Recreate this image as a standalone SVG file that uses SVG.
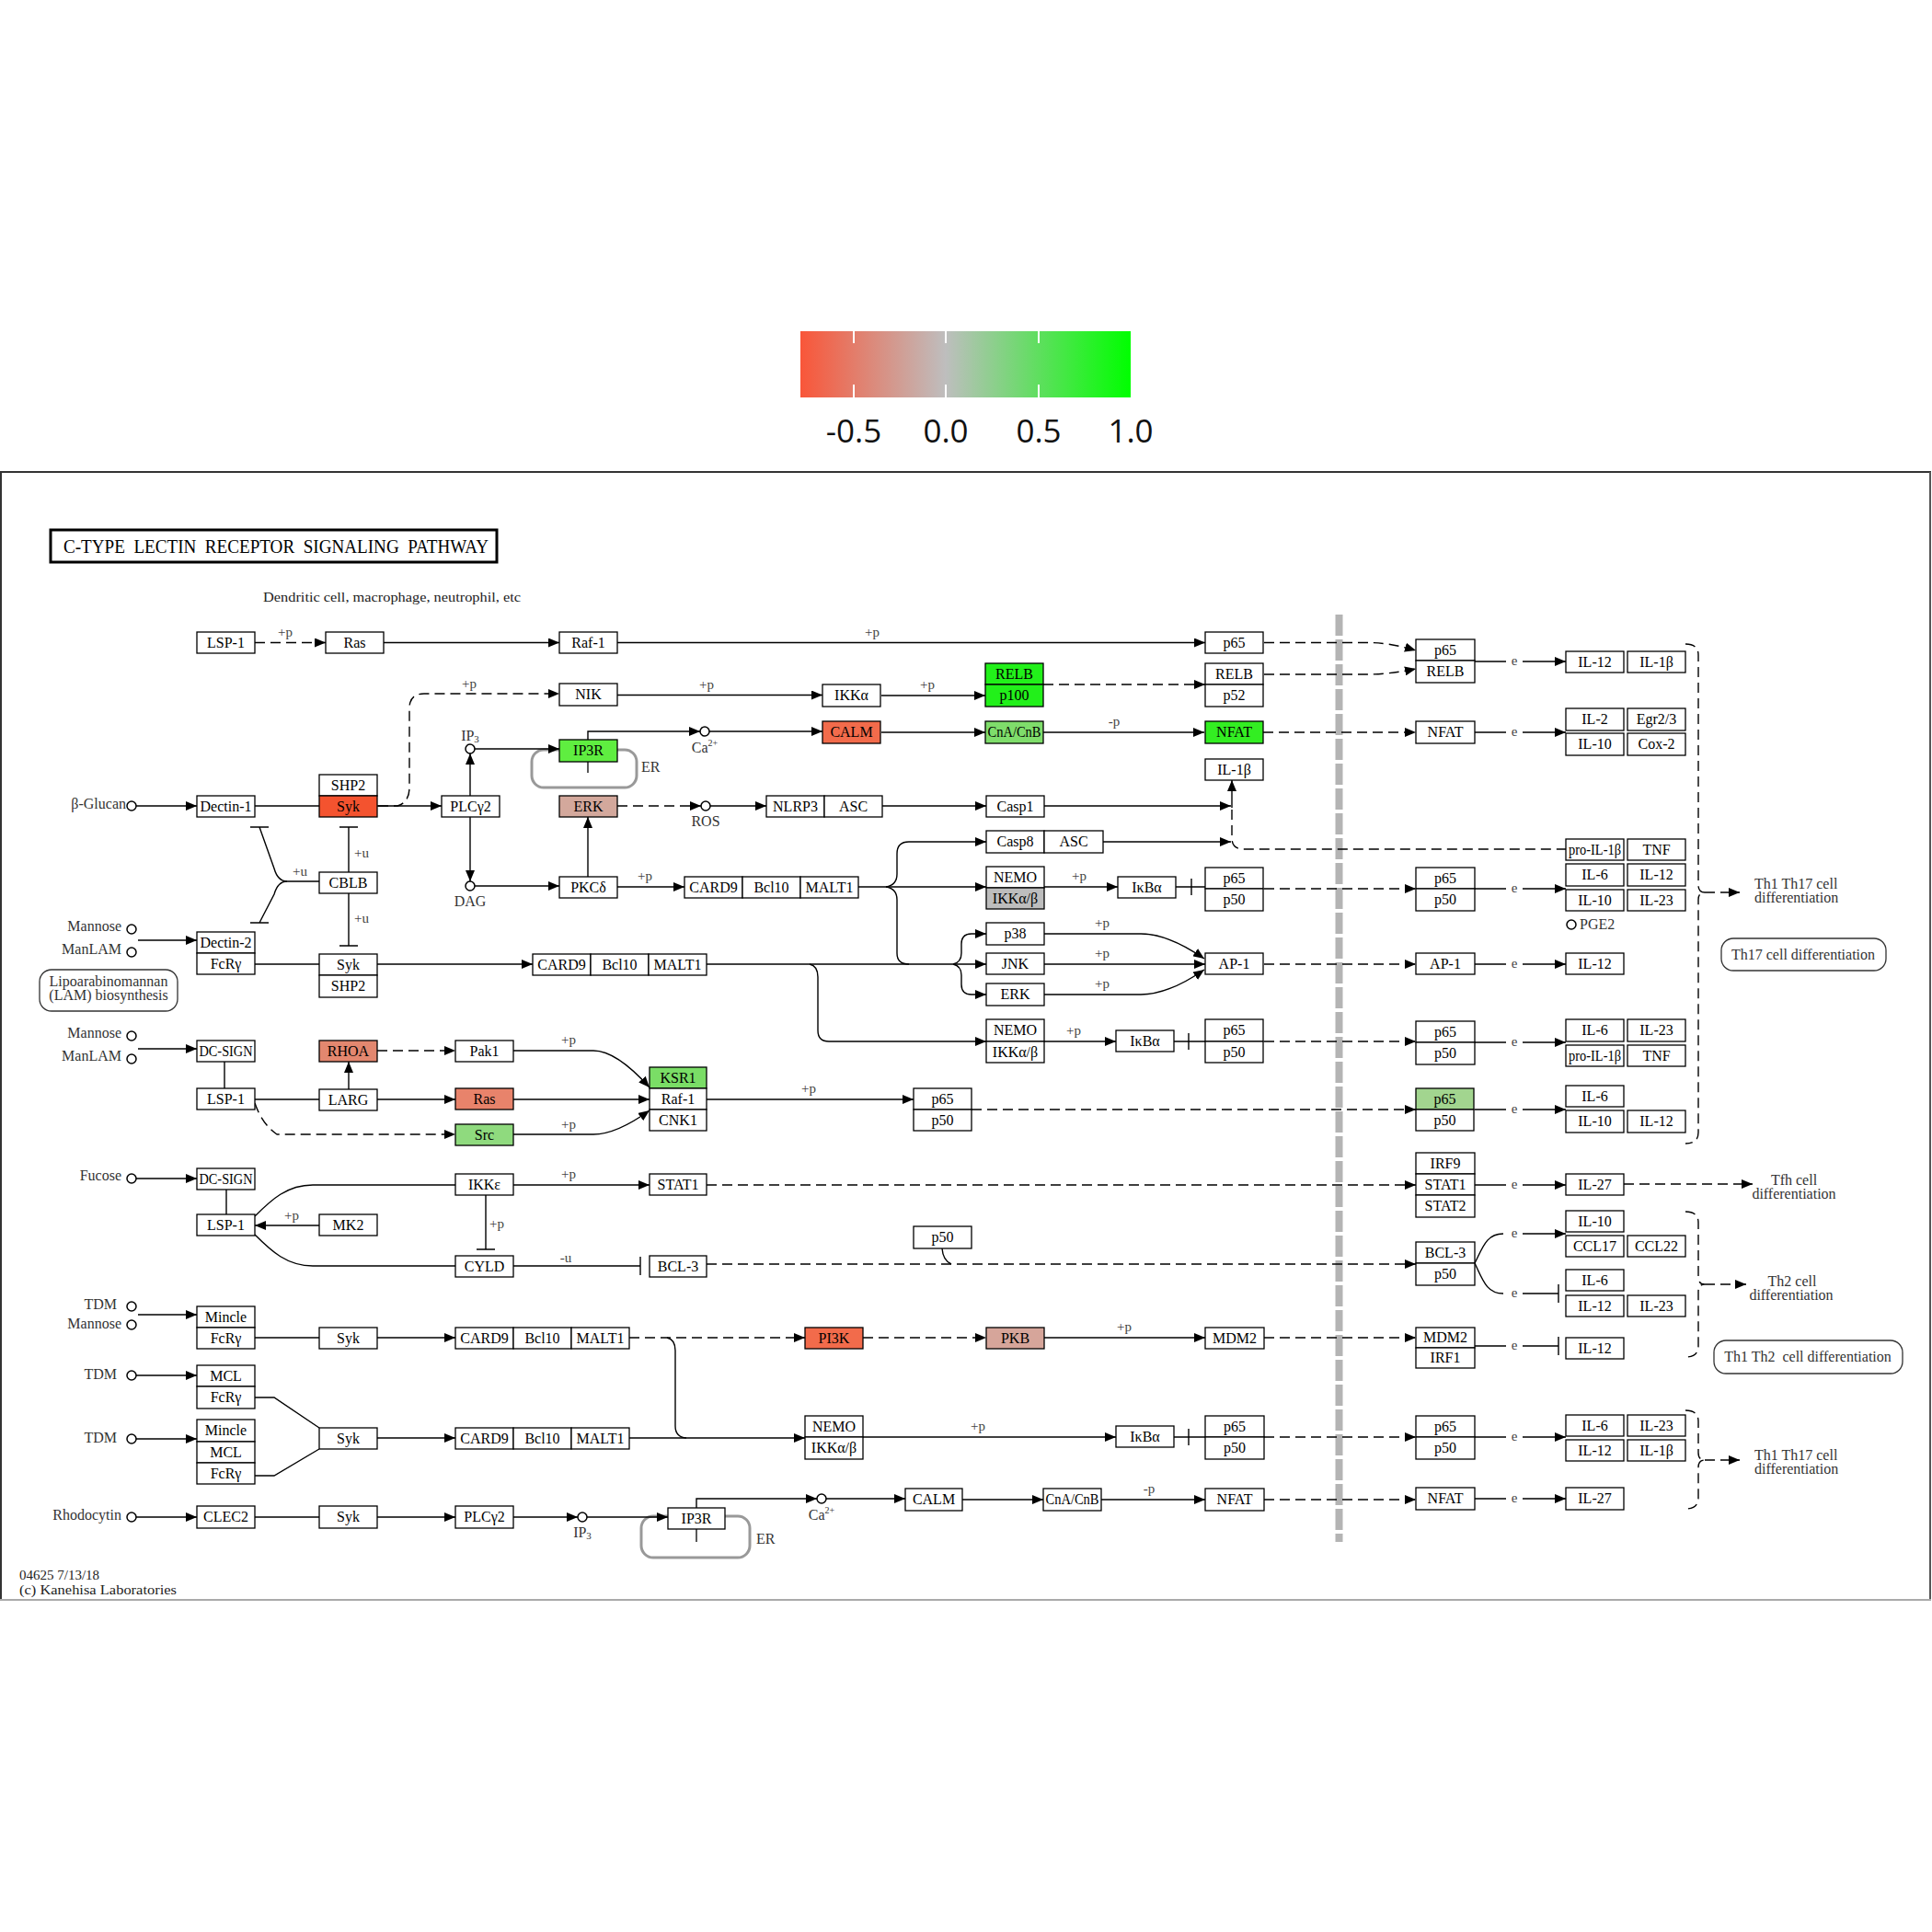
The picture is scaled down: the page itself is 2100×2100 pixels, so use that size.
<svg xmlns="http://www.w3.org/2000/svg" width="2100" height="2100" viewBox="0 0 2100 2100">
<defs>
<linearGradient id="lg" x1="0" y1="0" x2="1" y2="0">
<stop offset="0" stop-color="#F95639"/>
<stop offset="0.44" stop-color="#BEBEBE"/>
<stop offset="1" stop-color="#00FF00"/>
</linearGradient>
<marker id="ar" markerUnits="userSpaceOnUse" markerWidth="12" markerHeight="10" refX="12" refY="5" orient="auto" viewBox="0 0 12 10"><path d="M0,0L12,5L0,10z" fill="#000"/></marker>
</defs>
<style>
.b{fill:#fff;stroke:#000;stroke-width:1.3}
.t{font-family:"Liberation Serif",serif;font-size:16px;text-anchor:middle;fill:#000}
.l{fill:none;stroke:#000;stroke-width:1.4}
.d{stroke-dasharray:11 6}
.lb{font-family:"Liberation Serif",serif;font-size:15px;fill:#444;text-anchor:middle}
.c{fill:#fff;stroke:#000;stroke-width:1.5}
.cl{font-family:"Liberation Serif",serif;font-size:16px;fill:#333}
.r{text-anchor:end}
.mid{text-anchor:middle}
.m{fill:#fff;stroke:#333;stroke-width:1.3}
.er{fill:none;stroke:#999;stroke-width:3}
.lg{font-family:"Open Sans","Noto Sans",sans-serif;font-size:35px;fill:#111;text-anchor:middle}
</style>
<rect width="2100" height="2100" fill="#fff"/>

<g id="legend">
<rect x="870" y="360" width="359" height="72" fill="url(#lg)"/>
<g stroke="#fff" stroke-width="2">
<line x1="928" y1="360" x2="928" y2="373"/><line x1="928" y1="418" x2="928" y2="432"/>
<line x1="1028" y1="360" x2="1028" y2="373"/><line x1="1028" y1="418" x2="1028" y2="432"/>
<line x1="1129" y1="360" x2="1129" y2="373"/><line x1="1129" y1="418" x2="1129" y2="432"/>
</g>
<text class="lg" x="928" y="481">-0.5</text>
<text class="lg" x="1028" y="481">0.0</text>
<text class="lg" x="1129" y="481">0.5</text>
<text class="lg" x="1229" y="481">1.0</text>
</g>

<g id="frame">
<line x1="0" y1="513" x2="2099" y2="513" stroke="#333" stroke-width="2"/>
<line x1="1" y1="513" x2="1" y2="1739" stroke="#333" stroke-width="2"/>
<line x1="2098" y1="513" x2="2098" y2="1739" stroke="#555" stroke-width="2"/>
<line x1="0" y1="1739" x2="2099" y2="1739" stroke="#aaa" stroke-width="2"/>
</g>

<g id="title">
<rect x="55" y="576" width="485" height="35" fill="#fff" stroke="#000" stroke-width="3"/>
<text x="69" y="601" font-family="Liberation Serif,serif" font-size="20" textLength="462" lengthAdjust="spacingAndGlyphs" xml:space="preserve">C-TYPE  LECTIN  RECEPTOR  SIGNALING  PATHWAY</text>
<text x="286" y="654" font-family="Liberation Serif,serif" font-size="15" fill="#222" textLength="280" lengthAdjust="spacingAndGlyphs">Dendritic cell, macrophage, neutrophil, etc</text>
<text x="21" y="1717" font-family="Liberation Serif,serif" font-size="15" fill="#222">04625 7/13/18</text>
<text x="21" y="1733" font-family="Liberation Serif,serif" font-size="15" fill="#222" textLength="171" lengthAdjust="spacingAndGlyphs">(c) Kanehisa Laboratories</text>
</g>

<line id="membrane" x1="1455.5" y1="668" x2="1455.5" y2="1676" stroke="#B4B4B4" stroke-width="8" stroke-dasharray="23 4"/>

<g id="er-loops">
<rect class="er" x="578" y="815" width="114" height="41" rx="13"/>
<line x1="639" y1="828" x2="639" y2="840" stroke="#000" stroke-width="1.3"/>
<text class="cl" x="697" y="839">ER</text>
<rect class="er" x="697" y="1648" width="118" height="45" rx="13"/>
<line x1="757" y1="1662" x2="757" y2="1676" stroke="#000" stroke-width="1.3"/>
<text class="cl" x="822" y="1678">ER</text>
</g>

<g id="connectors">
<path class="l d" d="M277,698.5H354" marker-end="url(#ar)"/>
<path class="l" d="M417,698.5H608" marker-end="url(#ar)"/>
<path class="l" d="M671,698.5H1310" marker-end="url(#ar)"/>
<path class="l d" d="M1374,698.5H1490Q1512,699 1539,707" marker-end="url(#ar)"/>
<path class="l d" d="M1374,733H1485Q1510,733 1539,727" marker-end="url(#ar)"/>
<path class="l d" d="M411,876H432Q445,872 445,856V770Q445,754 461,754H608" marker-end="url(#ar)"/>
<path class="l" d="M671,755.5H894" marker-end="url(#ar)"/>
<path class="l" d="M958,756H1071" marker-end="url(#ar)"/>
<path class="l d" d="M1134,744H1310" marker-end="url(#ar)"/>
<path class="l" d="M639,804V795H761" marker-end="url(#ar)"/>
<path class="l" d="M771,795H894" marker-end="url(#ar)"/>
<path class="l" d="M958,796H1071" marker-end="url(#ar)"/>
<path class="l" d="M1134,796H1309" marker-end="url(#ar)"/>
<path class="l d" d="M1373,796H1539" marker-end="url(#ar)"/>
<path class="l" d="M148,876H214" marker-end="url(#ar)"/>
<path class="l" d="M277,876H347"/>
<path class="l" d="M410,876H480" marker-end="url(#ar)"/>
<path class="l" d="M511,865V819" marker-end="url(#ar)"/>
<path class="l" d="M511,888V958" marker-end="url(#ar)"/>
<path class="l" d="M516,814H608" marker-end="url(#ar)"/>
<path class="l" d="M516,963H608" marker-end="url(#ar)"/>
<path class="l" d="M639,953V888" marker-end="url(#ar)"/>
<path class="l d" d="M671,876H762" marker-end="url(#ar)"/>
<path class="l" d="M772,876H833" marker-end="url(#ar)"/>
<path class="l" d="M959,876H1072" marker-end="url(#ar)"/>
<path class="l" d="M1135,876H1338" marker-end="url(#ar)"/>
<path class="l" d="M1199,915H1338" marker-end="url(#ar)"/>
<path class="l" d="M1339,878V848" marker-end="url(#ar)"/>
<path class="l d" d="M1339,880V911Q1339,923 1352,923H1702"/>
<path class="l" d="M671,964H744" marker-end="url(#ar)"/>
<path class="l" d="M933,964H1072" marker-end="url(#ar)"/>
<path class="l" d="M963,964Q975,962 975,950V928Q975,915 988,915H1072" marker-end="url(#ar)"/>
<path class="l" d="M963,964Q975,966 975,978V1036Q975,1048 988,1048"/>
<path class="l" d="M1135,964H1215" marker-end="url(#ar)"/>
<path class="l" d="M1278,964H1310M1295,955V973"/>
<path class="l d" d="M1374,966H1539" marker-end="url(#ar)"/>
<path class="l" d="M379,948V899M369,899H389"/>
<path class="l" d="M379,971V1028M369,1028H389"/>
<path class="l" d="M347,958H312Q302,958 298,944L282,899M272,899H292"/>
<path class="l" d="M312,958Q302,958 298,972L282,1003M272,1003H292"/>
<path class="l" d="M150,1022H214" marker-end="url(#ar)"/>
<path class="l" d="M277,1048H347"/>
<path class="l" d="M410,1048H579" marker-end="url(#ar)"/>
<path class="l" d="M768,1048H1072" marker-end="url(#ar)"/>
<path class="l" d="M1036,1048Q1045,1046 1045,1036V1026Q1045,1015 1056,1015H1072" marker-end="url(#ar)"/>
<path class="l" d="M1036,1048Q1045,1050 1045,1060V1070Q1045,1081 1056,1081H1072" marker-end="url(#ar)"/>
<path class="l" d="M880,1048Q889,1050 889,1062V1120Q889,1132 901,1132H1072" marker-end="url(#ar)"/>
<path class="l" d="M1135,1015H1240Q1270,1015 1309,1042" marker-end="url(#ar)"/>
<path class="l" d="M1135,1048H1310" marker-end="url(#ar)"/>
<path class="l" d="M1135,1081H1240Q1270,1081 1309,1054" marker-end="url(#ar)"/>
<path class="l d" d="M1374,1048H1539" marker-end="url(#ar)"/>
<path class="l" d="M1135,1132H1213" marker-end="url(#ar)"/>
<path class="l" d="M1276,1132H1310M1292,1123V1141"/>
<path class="l d" d="M1374,1132H1539" marker-end="url(#ar)"/>
<path class="l" d="M150,1140H214" marker-end="url(#ar)"/>
<path class="l" d="M244,1154V1183"/>
<path class="l" d="M277,1195H347"/>
<path class="l" d="M379,1184V1154" marker-end="url(#ar)"/>
<path class="l d" d="M410,1142H495" marker-end="url(#ar)"/>
<path class="l" d="M410,1195H495" marker-end="url(#ar)"/>
<path class="l" d="M558,1142H645Q670,1142 706,1182" marker-end="url(#ar)"/>
<path class="l" d="M558,1195H706" marker-end="url(#ar)"/>
<path class="l" d="M558,1233H645Q670,1233 706,1207" marker-end="url(#ar)"/>
<path class="l d" d="M277,1199Q285,1222 301,1233H495" marker-end="url(#ar)"/>
<path class="l" d="M768,1195H993" marker-end="url(#ar)"/>
<path class="l d" d="M1056,1206H1539" marker-end="url(#ar)"/>
<path class="l" d="M148,1281H214" marker-end="url(#ar)"/>
<path class="l" d="M246,1293V1320"/>
<path class="l" d="M277,1322C295,1304 312,1288 340,1288H495"/>
<path class="l" d="M347,1332H277" marker-end="url(#ar)"/>
<path class="l" d="M277,1342C295,1360 312,1376 340,1376H495"/>
<path class="l" d="M558,1288H706" marker-end="url(#ar)"/>
<path class="l" d="M528,1299V1358M518,1358H538"/>
<path class="l" d="M558,1376H696M696,1366V1386"/>
<path class="l d" d="M768,1288H1539" marker-end="url(#ar)"/>
<path class="l d" d="M768,1374H1539" marker-end="url(#ar)"/>
<path class="l" d="M1024,1357Q1025,1370 1034,1374"/>
<path class="l" d="M150,1429H214" marker-end="url(#ar)"/>
<path class="l" d="M277,1454H347"/>
<path class="l" d="M410,1454H495" marker-end="url(#ar)"/>
<path class="l d" d="M684,1454H875" marker-end="url(#ar)"/>
<path class="l" d="M725,1454Q734,1456 734,1468V1550Q734,1562 746,1563"/>
<path class="l d" d="M938,1454H1072" marker-end="url(#ar)"/>
<path class="l" d="M1135,1454H1310" marker-end="url(#ar)"/>
<path class="l d" d="M1374,1454H1539" marker-end="url(#ar)"/>
<path class="l" d="M148,1495H214" marker-end="url(#ar)"/>
<path class="l" d="M148,1564H214" marker-end="url(#ar)"/>
<path class="l" d="M277,1519H298L347,1552"/>
<path class="l" d="M277,1604H298L347,1575"/>
<path class="l" d="M410,1563H495" marker-end="url(#ar)"/>
<path class="l" d="M684,1563H875" marker-end="url(#ar)"/>
<path class="l" d="M938,1562H1213" marker-end="url(#ar)"/>
<path class="l" d="M1276,1562H1310M1292,1553V1571"/>
<path class="l d" d="M1374,1562H1539" marker-end="url(#ar)"/>
<path class="l" d="M148,1649H214" marker-end="url(#ar)"/>
<path class="l" d="M277,1649H347"/>
<path class="l" d="M410,1649H495" marker-end="url(#ar)"/>
<path class="l" d="M558,1649H628" marker-end="url(#ar)"/>
<path class="l" d="M638,1649H726" marker-end="url(#ar)"/>
<path class="l" d="M757,1639V1629H888" marker-end="url(#ar)"/>
<path class="l" d="M898,1629H984" marker-end="url(#ar)"/>
<path class="l" d="M1046,1630H1134" marker-end="url(#ar)"/>
<path class="l" d="M1197,1630H1310" marker-end="url(#ar)"/>
<path class="l d" d="M1374,1630H1539" marker-end="url(#ar)"/>
<path class="l" d="M1603,719H1637M1655,719H1702" marker-end="url(#ar)"/>
<path class="l" d="M1603,796H1637M1655,796H1702" marker-end="url(#ar)"/>
<path class="l" d="M1603,966H1637M1655,966H1702" marker-end="url(#ar)"/>
<path class="l" d="M1603,1048H1637M1655,1048H1702" marker-end="url(#ar)"/>
<path class="l" d="M1603,1133H1637M1655,1133H1702" marker-end="url(#ar)"/>
<path class="l" d="M1603,1206H1637M1655,1206H1702" marker-end="url(#ar)"/>
<path class="l" d="M1603,1288H1637M1655,1288H1702" marker-end="url(#ar)"/>
<path class="l" d="M1603,1373C1612,1355 1616,1341 1634,1341M1655,1341H1702" marker-end="url(#ar)"/>
<path class="l" d="M1603,1373C1612,1392 1616,1406 1634,1406M1655,1406H1694M1694,1396V1416"/>
<path class="l" d="M1603,1463H1637M1655,1463H1694M1694,1453V1473"/>
<path class="l" d="M1603,1562H1637M1655,1562H1702" marker-end="url(#ar)"/>
<path class="l" d="M1603,1629H1637M1655,1629H1702" marker-end="url(#ar)"/>
<path class="l d" d="M1765,1287H1905" marker-end="url(#ar)"/>
<path class="l d" d="M1832,700Q1846,700 1846,712V962Q1846,970 1853,970Q1846,970 1846,978V1231Q1846,1243 1832,1243"/>
<path class="l d" d="M1853,970H1891" marker-end="url(#ar)"/>
<path class="l d" d="M1832,1317Q1846,1317 1846,1329V1388Q1846,1396 1853,1396Q1846,1396 1846,1404V1463Q1846,1475 1832,1475"/>
<path class="l d" d="M1853,1396H1898" marker-end="url(#ar)"/>
<path class="l d" d="M1832,1533Q1846,1533 1846,1545V1579Q1846,1587 1853,1587Q1846,1587 1846,1595V1628Q1846,1640 1832,1640"/>
<path class="l d" d="M1853,1587H1891" marker-end="url(#ar)"/>
</g>

<g id="edge-labels">
<text class="lb" x="310" y="692">+p</text>
<text class="lb" x="948" y="692">+p</text>
<text class="lb" x="510" y="748">+p</text>
<text class="lb" x="768" y="749">+p</text>
<text class="lb" x="1008" y="749">+p</text>
<text class="lb" x="1211" y="789">-p</text>
<text class="lb" x="701" y="957">+p</text>
<text class="lb" x="1173" y="957">+p</text>
<text class="lb" x="393" y="932">+u</text>
<text class="lb" x="326" y="952">+u</text>
<text class="lb" x="393" y="1003">+u</text>
<text class="lb" x="1198" y="1008">+p</text>
<text class="lb" x="1198" y="1041">+p</text>
<text class="lb" x="1198" y="1074">+p</text>
<text class="lb" x="1167" y="1125">+p</text>
<text class="lb" x="618" y="1135">+p</text>
<text class="lb" x="618" y="1227">+p</text>
<text class="lb" x="879" y="1188">+p</text>
<text class="lb" x="618" y="1281">+p</text>
<text class="lb" x="317" y="1326">+p</text>
<text class="lb" x="540" y="1335">+p</text>
<text class="lb" x="615" y="1372">-u</text>
<text class="lb" x="1222" y="1447">+p</text>
<text class="lb" x="1063" y="1555">+p</text>
<text class="lb" x="1249" y="1623">-p</text>
<text class="lb" x="1646" y="723">e</text>
<text class="lb" x="1646" y="800">e</text>
<text class="lb" x="1646" y="970">e</text>
<text class="lb" x="1646" y="1052">e</text>
<text class="lb" x="1646" y="1137">e</text>
<text class="lb" x="1646" y="1210">e</text>
<text class="lb" x="1646" y="1292">e</text>
<text class="lb" x="1646" y="1345">e</text>
<text class="lb" x="1646" y="1410">e</text>
<text class="lb" x="1646" y="1467">e</text>
<text class="lb" x="1646" y="1566">e</text>
<text class="lb" x="1646" y="1633">e</text>
</g>

<g id="compounds">
<g id="cpd-bglucan"><circle class="c" cx="143" cy="876" r="5"/><text class="cl r" x="137" y="879">β-Glucan</text></g>
<g id="cpd-ip3-a"><circle class="c" cx="511" cy="814" r="5"/><text class="cl mid" x="511" y="805">IP<tspan font-size="11" dy="2">3</tspan></text></g>
<g id="cpd-dag"><circle class="c" cx="511" cy="963" r="5"/><text class="cl mid" x="511" y="985">DAG</text></g>
<g id="cpd-ca-a"><circle class="c" cx="766" cy="795" r="5"/><text class="cl mid" x="766" y="818">Ca<tspan font-size="10" dy="-7">2+</tspan></text></g>
<g id="cpd-ros"><circle class="c" cx="767" cy="876" r="5"/><text class="cl mid" x="767" y="898">ROS</text></g>
<g id="cpd-mannose-a"><circle class="c" cx="143" cy="1010" r="5"/><text class="cl r" x="132" y="1012">Mannose</text></g>
<g id="cpd-manlam-a"><circle class="c" cx="143" cy="1035" r="5"/><text class="cl r" x="132" y="1037">ManLAM</text></g>
<g id="cpd-mannose-b"><circle class="c" cx="143" cy="1126" r="5"/><text class="cl r" x="132" y="1128">Mannose</text></g>
<g id="cpd-manlam-b"><circle class="c" cx="143" cy="1151" r="5"/><text class="cl r" x="132" y="1153">ManLAM</text></g>
<g id="cpd-fucose"><circle class="c" cx="143" cy="1281" r="5"/><text class="cl r" x="132" y="1283">Fucose</text></g>
<g id="cpd-tdm-a"><circle class="c" cx="143" cy="1420" r="5"/><text class="cl r" x="127" y="1423">TDM</text></g>
<g id="cpd-mannose-c"><circle class="c" cx="143" cy="1440" r="5"/><text class="cl r" x="132" y="1444">Mannose</text></g>
<g id="cpd-tdm-b"><circle class="c" cx="143" cy="1495" r="5"/><text class="cl r" x="127" y="1499">TDM</text></g>
<g id="cpd-tdm-c"><circle class="c" cx="143" cy="1564" r="5"/><text class="cl r" x="127" y="1568">TDM</text></g>
<g id="cpd-rhodocytin"><circle class="c" cx="143" cy="1649" r="5"/><text class="cl r" x="132" y="1652">Rhodocytin</text></g>
<g id="cpd-ip3-b"><circle class="c" cx="633" cy="1649" r="5"/><text class="cl mid" x="633" y="1671">IP<tspan font-size="11" dy="2">3</tspan></text></g>
<g id="cpd-ca-b"><circle class="c" cx="893" cy="1629" r="5"/><text class="cl mid" x="893" y="1652">Ca<tspan font-size="10" dy="-7">2+</tspan></text></g>
<g id="cpd-pge2"><circle class="c" cx="1708" cy="1005" r="5"/><text class="cl" x="1717" y="1010">PGE2</text></g>
</g>

<g id="maps">
<g id="map-lam"><rect class="m" x="43" y="1054" width="150" height="45" rx="13"/><text class="cl mid" x="118" y="1072">Lipoarabinomannan</text><text class="cl mid" x="118" y="1087">(LAM) biosynthesis</text></g>
<g id="map-th17"><rect class="m" x="1871" y="1020" width="179" height="35" rx="13"/><text class="cl mid" x="1960" y="1043">Th17 cell differentiation</text></g>
<g id="map-th1th2"><rect class="m" x="1863" y="1457" width="205" height="36" rx="13"/><text class="cl mid" x="1965" y="1480" xml:space="preserve">Th1 Th2  cell differentiation</text></g>
<g id="out-th1th17-a"><text class="cl" x="1907" y="966">Th1 Th17 cell</text><text class="cl" x="1907" y="981">differentiation</text></g>
<g id="out-tfh"><text class="cl mid" x="1950" y="1288">Tfh cell</text><text class="cl mid" x="1950" y="1303">differentiation</text></g>
<g id="out-th2"><text class="cl mid" x="1948" y="1398">Th2 cell</text><text class="cl mid" x="1947" y="1413">differentiation</text></g>
<g id="out-th1th17-b"><text class="cl" x="1907" y="1587">Th1 Th17 cell</text><text class="cl" x="1907" y="1602">differentiation</text></g>
</g>

<g id="nodes">
<g id="n-lsp1-a"><rect class="b" x="214" y="687" width="63" height="23"/><text class="t" x="245.5" y="704">LSP-1</text></g>
<g id="n-ras-a"><rect class="b" x="354" y="687" width="63" height="23"/><text class="t" x="385.5" y="704">Ras</text></g>
<g id="n-raf1-a"><rect class="b" x="608" y="687" width="63" height="23"/><text class="t" x="639.5" y="704">Raf-1</text></g>
<g id="n-p65-a"><rect class="b" x="1310" y="687" width="63" height="23"/><text class="t" x="1341.5" y="704">p65</text></g>
<g id="n-nik"><rect class="b" x="608" y="743" width="63" height="24"/><text class="t" x="639.5" y="760">NIK</text></g>
<g id="n-ikka"><rect class="b" x="894" y="744" width="63" height="24"/><text class="t" x="925.5" y="761">IKKα</text></g>
<g id="n-relb-p100"><rect class="b" x="1071" y="721" width="63" height="23" style="fill:#22F01A"/><text class="t" x="1102.5" y="738">RELB</text><rect class="b" x="1071" y="744" width="63" height="24" style="fill:#22F01A"/><text class="t" x="1102.5" y="761">p100</text></g>
<g id="n-relb-p52"><rect class="b" x="1310" y="721" width="63" height="23"/><text class="t" x="1341.5" y="738">RELB</text><rect class="b" x="1310" y="744" width="63" height="24"/><text class="t" x="1341.5" y="761">p52</text></g>
<g id="n-ip3r-a"><rect class="b" x="608" y="804" width="63" height="24" style="fill:#5FEE40"/><text class="t" x="639.5" y="821">IP3R</text></g>
<g id="n-calm-a"><rect class="b" x="894" y="784" width="63" height="24" style="fill:#F26B4B"/><text class="t" x="925.5" y="801">CALM</text></g>
<g id="n-cna-a"><rect class="b" x="1071" y="784" width="63" height="24" style="fill:#7FDD6B"/><text class="t" x="1102.5" y="801" textLength="58" lengthAdjust="spacingAndGlyphs">CnA/CnB</text></g>
<g id="n-nfat-a"><rect class="b" x="1310" y="784" width="63" height="24" style="fill:#33EE22"/><text class="t" x="1341.5" y="801">NFAT</text></g>
<g id="n-il1b-a"><rect class="b" x="1310" y="825" width="63" height="23"/><text class="t" x="1341.5" y="842">IL-1β</text></g>
<g id="n-shp2-syk-a"><rect class="b" x="347" y="842" width="63" height="23"/><text class="t" x="378.5" y="859">SHP2</text><rect class="b" x="347" y="865" width="63" height="23" style="fill:#F4532F"/><text class="t" x="378.5" y="882">Syk</text></g>
<g id="n-dectin1"><rect class="b" x="214" y="865" width="63" height="23"/><text class="t" x="245.5" y="882" textLength="56" lengthAdjust="spacingAndGlyphs">Dectin-1</text></g>
<g id="n-plcg2-a"><rect class="b" x="480" y="865" width="63" height="23"/><text class="t" x="511.5" y="882">PLCγ2</text></g>
<g id="n-erk-a"><rect class="b" x="608" y="865" width="63" height="23" style="fill:#D3A89C"/><text class="t" x="639.5" y="882">ERK</text></g>
<g id="n-nlrp3-asc"><rect class="b" x="833" y="865" width="63" height="23"/><text class="t" x="864.5" y="882">NLRP3</text><rect class="b" x="896" y="865" width="63" height="23"/><text class="t" x="927.5" y="882">ASC</text></g>
<g id="n-casp1"><rect class="b" x="1072" y="865" width="63" height="23"/><text class="t" x="1103.5" y="882">Casp1</text></g>
<g id="n-casp8-asc"><rect class="b" x="1072" y="903" width="63" height="24"/><text class="t" x="1103.5" y="920">Casp8</text><rect class="b" x="1135" y="903" width="64" height="24"/><text class="t" x="1167" y="920">ASC</text></g>
<g id="n-cblb"><rect class="b" x="347" y="948" width="63" height="23"/><text class="t" x="378.5" y="965">CBLB</text></g>
<g id="n-pkcd"><rect class="b" x="608" y="953" width="63" height="23"/><text class="t" x="639.5" y="970">PKCδ</text></g>
<g id="n-card9-a"><rect class="b" x="744" y="953" width="63" height="23"/><text class="t" x="775.5" y="970">CARD9</text><rect class="b" x="807" y="953" width="63" height="23"/><text class="t" x="838.5" y="970">Bcl10</text><rect class="b" x="870" y="953" width="63" height="23"/><text class="t" x="901.5" y="970">MALT1</text></g>
<g id="n-nemo-a"><rect class="b" x="1072" y="942" width="63" height="23"/><text class="t" x="1103.5" y="959">NEMO</text><rect class="b" x="1072" y="965" width="63" height="23" style="fill:#BDBDBD"/><text class="t" x="1103.5" y="982">IKKα/β</text></g>
<g id="n-ikba-a"><rect class="b" x="1215" y="953" width="63" height="23"/><text class="t" x="1246.5" y="970">IκBα</text></g>
<g id="n-p65p50-a"><rect class="b" x="1310" y="943" width="63" height="23"/><text class="t" x="1341.5" y="960">p65</text><rect class="b" x="1310" y="966" width="63" height="24"/><text class="t" x="1341.5" y="983">p50</text></g>
<g id="n-p38"><rect class="b" x="1072" y="1003" width="63" height="24"/><text class="t" x="1103.5" y="1020">p38</text></g>
<g id="n-dectin2"><rect class="b" x="214" y="1013" width="63" height="23"/><text class="t" x="245.5" y="1030" textLength="56" lengthAdjust="spacingAndGlyphs">Dectin-2</text><rect class="b" x="214" y="1036" width="63" height="23"/><text class="t" x="245.5" y="1053">FcRγ</text></g>
<g id="n-syk-shp2-b"><rect class="b" x="347" y="1037" width="63" height="23"/><text class="t" x="378.5" y="1054">Syk</text><rect class="b" x="347" y="1060" width="63" height="24"/><text class="t" x="378.5" y="1077">SHP2</text></g>
<g id="n-card9-b"><rect class="b" x="579" y="1037" width="63" height="23"/><text class="t" x="610.5" y="1054">CARD9</text><rect class="b" x="642" y="1037" width="63" height="23"/><text class="t" x="673.5" y="1054">Bcl10</text><rect class="b" x="705" y="1037" width="63" height="23"/><text class="t" x="736.5" y="1054">MALT1</text></g>
<g id="n-jnk"><rect class="b" x="1072" y="1036" width="63" height="23"/><text class="t" x="1103.5" y="1053">JNK</text></g>
<g id="n-ap1-a"><rect class="b" x="1310" y="1036" width="63" height="23"/><text class="t" x="1341.5" y="1053">AP-1</text></g>
<g id="n-erk-b"><rect class="b" x="1072" y="1069" width="63" height="24"/><text class="t" x="1103.5" y="1086">ERK</text></g>
<g id="n-nemo-b"><rect class="b" x="1072" y="1108" width="63" height="24"/><text class="t" x="1103.5" y="1125">NEMO</text><rect class="b" x="1072" y="1132" width="63" height="23"/><text class="t" x="1103.5" y="1149">IKKα/β</text></g>
<g id="n-ikba-b"><rect class="b" x="1213" y="1120" width="63" height="23"/><text class="t" x="1244.5" y="1137">IκBα</text></g>
<g id="n-p65p50-b"><rect class="b" x="1310" y="1108" width="63" height="24"/><text class="t" x="1341.5" y="1125">p65</text><rect class="b" x="1310" y="1132" width="63" height="23"/><text class="t" x="1341.5" y="1149">p50</text></g>
<g id="n-dcsign-a"><rect class="b" x="214" y="1131" width="63" height="23"/><text class="t" x="245.5" y="1148" textLength="58" lengthAdjust="spacingAndGlyphs">DC-SIGN</text></g>
<g id="n-rhoa"><rect class="b" x="347" y="1131" width="63" height="23" style="fill:#E3876F"/><text class="t" x="378.5" y="1148">RHOA</text></g>
<g id="n-pak1"><rect class="b" x="495" y="1131" width="63" height="23"/><text class="t" x="526.5" y="1148">Pak1</text></g>
<g id="n-ksr1"><rect class="b" x="706" y="1160" width="62" height="23" style="fill:#7ADD66"/><text class="t" x="737" y="1177">KSR1</text><rect class="b" x="706" y="1183" width="62" height="23"/><text class="t" x="737" y="1200">Raf-1</text><rect class="b" x="706" y="1206" width="62" height="23"/><text class="t" x="737" y="1223">CNK1</text></g>
<g id="n-lsp1-b"><rect class="b" x="214" y="1183" width="63" height="23"/><text class="t" x="245.5" y="1200">LSP-1</text></g>
<g id="n-larg"><rect class="b" x="347" y="1184" width="63" height="23"/><text class="t" x="378.5" y="1201">LARG</text></g>
<g id="n-ras-b"><rect class="b" x="495" y="1183" width="63" height="23" style="fill:#E8836B"/><text class="t" x="526.5" y="1200">Ras</text></g>
<g id="n-p65p50-c"><rect class="b" x="993" y="1183" width="63" height="23"/><text class="t" x="1024.5" y="1200">p65</text><rect class="b" x="993" y="1206" width="63" height="23"/><text class="t" x="1024.5" y="1223">p50</text></g>
<g id="n-src"><rect class="b" x="495" y="1222" width="63" height="23" style="fill:#8FDA7E"/><text class="t" x="526.5" y="1239">Src</text></g>
<g id="n-dcsign-b"><rect class="b" x="214" y="1270" width="63" height="23"/><text class="t" x="245.5" y="1287" textLength="58" lengthAdjust="spacingAndGlyphs">DC-SIGN</text></g>
<g id="n-ikke"><rect class="b" x="495" y="1276" width="63" height="23"/><text class="t" x="526.5" y="1293">IKKε</text></g>
<g id="n-stat1-a"><rect class="b" x="706" y="1276" width="62" height="23"/><text class="t" x="737" y="1293">STAT1</text></g>
<g id="n-lsp1-c"><rect class="b" x="214" y="1320" width="63" height="23"/><text class="t" x="245.5" y="1337">LSP-1</text></g>
<g id="n-mk2"><rect class="b" x="347" y="1320" width="63" height="23"/><text class="t" x="378.5" y="1337">MK2</text></g>
<g id="n-p50-small"><rect class="b" x="993" y="1333" width="63" height="24"/><text class="t" x="1024.5" y="1350">p50</text></g>
<g id="n-cyld"><rect class="b" x="495" y="1365" width="63" height="23"/><text class="t" x="526.5" y="1382">CYLD</text></g>
<g id="n-bcl3-a"><rect class="b" x="706" y="1365" width="62" height="23"/><text class="t" x="737" y="1382">BCL-3</text></g>
<g id="n-mincle-a"><rect class="b" x="214" y="1420" width="63" height="23"/><text class="t" x="245.5" y="1437">Mincle</text><rect class="b" x="214" y="1443" width="63" height="23"/><text class="t" x="245.5" y="1460">FcRγ</text></g>
<g id="n-syk-c"><rect class="b" x="347" y="1443" width="63" height="23"/><text class="t" x="378.5" y="1460">Syk</text></g>
<g id="n-card9-c"><rect class="b" x="495" y="1443" width="63" height="23"/><text class="t" x="526.5" y="1460">CARD9</text><rect class="b" x="558" y="1443" width="63" height="23"/><text class="t" x="589.5" y="1460">Bcl10</text><rect class="b" x="621" y="1443" width="63" height="23"/><text class="t" x="652.5" y="1460">MALT1</text></g>
<g id="n-pi3k"><rect class="b" x="875" y="1443" width="63" height="23" style="fill:#F26B4B"/><text class="t" x="906.5" y="1460">PI3K</text></g>
<g id="n-pkb"><rect class="b" x="1072" y="1443" width="63" height="23" style="fill:#D6A59A"/><text class="t" x="1103.5" y="1460">PKB</text></g>
<g id="n-mdm2-a"><rect class="b" x="1310" y="1443" width="64" height="23"/><text class="t" x="1342" y="1460">MDM2</text></g>
<g id="n-mcl-a"><rect class="b" x="214" y="1484" width="63" height="23"/><text class="t" x="245.5" y="1501">MCL</text><rect class="b" x="214" y="1507" width="63" height="24"/><text class="t" x="245.5" y="1524">FcRγ</text></g>
<g id="n-mincle-b"><rect class="b" x="214" y="1543" width="63" height="24"/><text class="t" x="245.5" y="1560">Mincle</text><rect class="b" x="214" y="1567" width="63" height="23"/><text class="t" x="245.5" y="1584">MCL</text><rect class="b" x="214" y="1590" width="63" height="23"/><text class="t" x="245.5" y="1607">FcRγ</text></g>
<g id="n-syk-d"><rect class="b" x="347" y="1552" width="63" height="23"/><text class="t" x="378.5" y="1569">Syk</text></g>
<g id="n-card9-d"><rect class="b" x="495" y="1552" width="63" height="23"/><text class="t" x="526.5" y="1569">CARD9</text><rect class="b" x="558" y="1552" width="63" height="23"/><text class="t" x="589.5" y="1569">Bcl10</text><rect class="b" x="621" y="1552" width="63" height="23"/><text class="t" x="652.5" y="1569">MALT1</text></g>
<g id="n-nemo-c"><rect class="b" x="875" y="1539" width="63" height="23"/><text class="t" x="906.5" y="1556">NEMO</text><rect class="b" x="875" y="1562" width="63" height="24"/><text class="t" x="906.5" y="1579">IKKα/β</text></g>
<g id="n-ikba-c"><rect class="b" x="1213" y="1550" width="63" height="23"/><text class="t" x="1244.5" y="1567">IκBα</text></g>
<g id="n-p65p50-d"><rect class="b" x="1310" y="1539" width="64" height="23"/><text class="t" x="1342" y="1556">p65</text><rect class="b" x="1310" y="1562" width="64" height="24"/><text class="t" x="1342" y="1579">p50</text></g>
<g id="n-clec2"><rect class="b" x="214" y="1637" width="63" height="24"/><text class="t" x="245.5" y="1654">CLEC2</text></g>
<g id="n-syk-e"><rect class="b" x="347" y="1637" width="63" height="24"/><text class="t" x="378.5" y="1654">Syk</text></g>
<g id="n-plcg2-b"><rect class="b" x="495" y="1637" width="63" height="24"/><text class="t" x="526.5" y="1654">PLCγ2</text></g>
<g id="n-ip3r-b"><rect class="b" x="726" y="1639" width="62" height="23"/><text class="t" x="757" y="1656">IP3R</text></g>
<g id="n-calm-b"><rect class="b" x="984" y="1618" width="62" height="24"/><text class="t" x="1015" y="1635">CALM</text></g>
<g id="n-cna-b"><rect class="b" x="1134" y="1618" width="63" height="24"/><text class="t" x="1165.5" y="1635" textLength="58" lengthAdjust="spacingAndGlyphs">CnA/CnB</text></g>
<g id="n-nfat-b"><rect class="b" x="1310" y="1618" width="64" height="24"/><text class="t" x="1342" y="1635">NFAT</text></g>

<g id="r-p65-relb"><rect class="b" x="1539" y="695" width="64" height="23"/><text class="t" x="1571" y="712">p65</text><rect class="b" x="1539" y="718" width="64" height="24"/><text class="t" x="1571" y="735">RELB</text></g>
<g id="r-nfat-a"><rect class="b" x="1539" y="784" width="64" height="24"/><text class="t" x="1571" y="801">NFAT</text></g>
<g id="r-p65p50-a"><rect class="b" x="1539" y="943" width="64" height="23"/><text class="t" x="1571" y="960">p65</text><rect class="b" x="1539" y="966" width="64" height="24"/><text class="t" x="1571" y="983">p50</text></g>
<g id="r-ap1"><rect class="b" x="1539" y="1036" width="64" height="23"/><text class="t" x="1571" y="1053">AP-1</text></g>
<g id="r-p65p50-b"><rect class="b" x="1539" y="1110" width="64" height="23"/><text class="t" x="1571" y="1127">p65</text><rect class="b" x="1539" y="1133" width="64" height="24"/><text class="t" x="1571" y="1150">p50</text></g>
<g id="r-p65p50-c"><rect class="b" x="1539" y="1183" width="63" height="23" style="fill:#A2D58F"/><text class="t" x="1570.5" y="1200">p65</text><rect class="b" x="1539" y="1206" width="63" height="23"/><text class="t" x="1570.5" y="1223">p50</text></g>
<g id="r-irf9-stat"><rect class="b" x="1539" y="1253" width="64" height="23"/><text class="t" x="1571" y="1270">IRF9</text><rect class="b" x="1539" y="1276" width="64" height="23"/><text class="t" x="1571" y="1293">STAT1</text><rect class="b" x="1539" y="1299" width="64" height="24"/><text class="t" x="1571" y="1316">STAT2</text></g>
<g id="r-bcl3-p50"><rect class="b" x="1539" y="1350" width="64" height="23"/><text class="t" x="1571" y="1367">BCL-3</text><rect class="b" x="1539" y="1373" width="64" height="24"/><text class="t" x="1571" y="1390">p50</text></g>
<g id="r-mdm2-irf1"><rect class="b" x="1539" y="1443" width="64" height="22"/><text class="t" x="1571" y="1459">MDM2</text><rect class="b" x="1539" y="1465" width="64" height="22"/><text class="t" x="1571" y="1481">IRF1</text></g>
<g id="r-p65p50-d"><rect class="b" x="1539" y="1539" width="64" height="23"/><text class="t" x="1571" y="1556">p65</text><rect class="b" x="1539" y="1562" width="64" height="24"/><text class="t" x="1571" y="1579">p50</text></g>
<g id="r-nfat-b"><rect class="b" x="1539" y="1617" width="64" height="24"/><text class="t" x="1571" y="1634">NFAT</text></g>

<g id="g-il12-a"><rect class="b" x="1702" y="708" width="63" height="23"/><text class="t" x="1733.5" y="725">IL-12</text></g>
<g id="g-il1b-a"><rect class="b" x="1769" y="708" width="63" height="23"/><text class="t" x="1800.5" y="725">IL-1β</text></g>
<g id="g-il2"><rect class="b" x="1702" y="770" width="63" height="24"/><text class="t" x="1733.5" y="787">IL-2</text></g>
<g id="g-egr"><rect class="b" x="1769" y="770" width="63" height="24"/><text class="t" x="1800.5" y="787">Egr2/3</text></g>
<g id="g-il10-a"><rect class="b" x="1702" y="797" width="63" height="24"/><text class="t" x="1733.5" y="814">IL-10</text></g>
<g id="g-cox2"><rect class="b" x="1769" y="797" width="63" height="24"/><text class="t" x="1800.5" y="814">Cox-2</text></g>
<g id="g-proil1b-a"><rect class="b" x="1702" y="912" width="63" height="23"/><text class="t" x="1733.5" y="929" textLength="57" lengthAdjust="spacingAndGlyphs">pro-IL-1β</text></g>
<g id="g-tnf-a"><rect class="b" x="1769" y="912" width="63" height="23"/><text class="t" x="1800.5" y="929">TNF</text></g>
<g id="g-il6-a"><rect class="b" x="1702" y="939" width="63" height="24"/><text class="t" x="1733.5" y="956">IL-6</text></g>
<g id="g-il12-b"><rect class="b" x="1769" y="939" width="63" height="24"/><text class="t" x="1800.5" y="956">IL-12</text></g>
<g id="g-il10-b"><rect class="b" x="1702" y="967" width="63" height="23"/><text class="t" x="1733.5" y="984">IL-10</text></g>
<g id="g-il23-a"><rect class="b" x="1769" y="967" width="63" height="23"/><text class="t" x="1800.5" y="984">IL-23</text></g>
<g id="g-il12-c"><rect class="b" x="1702" y="1036" width="63" height="23"/><text class="t" x="1733.5" y="1053">IL-12</text></g>
<g id="g-il6-b"><rect class="b" x="1702" y="1108" width="63" height="24"/><text class="t" x="1733.5" y="1125">IL-6</text></g>
<g id="g-il23-b"><rect class="b" x="1769" y="1108" width="63" height="24"/><text class="t" x="1800.5" y="1125">IL-23</text></g>
<g id="g-proil1b-b"><rect class="b" x="1702" y="1136" width="63" height="23"/><text class="t" x="1733.5" y="1153" textLength="57" lengthAdjust="spacingAndGlyphs">pro-IL-1β</text></g>
<g id="g-tnf-b"><rect class="b" x="1769" y="1136" width="63" height="23"/><text class="t" x="1800.5" y="1153">TNF</text></g>
<g id="g-il6-c"><rect class="b" x="1702" y="1180" width="63" height="23"/><text class="t" x="1733.5" y="1197">IL-6</text></g>
<g id="g-il10-c"><rect class="b" x="1702" y="1207" width="63" height="24"/><text class="t" x="1733.5" y="1224">IL-10</text></g>
<g id="g-il12-d"><rect class="b" x="1769" y="1207" width="63" height="24"/><text class="t" x="1800.5" y="1224">IL-12</text></g>
<g id="g-il27-a"><rect class="b" x="1702" y="1276" width="63" height="23"/><text class="t" x="1733.5" y="1293">IL-27</text></g>
<g id="g-il10-d"><rect class="b" x="1702" y="1316" width="63" height="23"/><text class="t" x="1733.5" y="1333">IL-10</text></g>
<g id="g-ccl17"><rect class="b" x="1702" y="1343" width="63" height="23"/><text class="t" x="1733.5" y="1360">CCL17</text></g>
<g id="g-ccl22"><rect class="b" x="1769" y="1343" width="63" height="23"/><text class="t" x="1800.5" y="1360">CCL22</text></g>
<g id="g-il6-d"><rect class="b" x="1702" y="1380" width="63" height="23"/><text class="t" x="1733.5" y="1397">IL-6</text></g>
<g id="g-il12-e"><rect class="b" x="1702" y="1408" width="63" height="23"/><text class="t" x="1733.5" y="1425">IL-12</text></g>
<g id="g-il23-c"><rect class="b" x="1769" y="1408" width="63" height="23"/><text class="t" x="1800.5" y="1425">IL-23</text></g>
<g id="g-il12-f"><rect class="b" x="1702" y="1454" width="63" height="23"/><text class="t" x="1733.5" y="1471">IL-12</text></g>
<g id="g-il6-e"><rect class="b" x="1702" y="1538" width="63" height="23"/><text class="t" x="1733.5" y="1555">IL-6</text></g>
<g id="g-il23-d"><rect class="b" x="1769" y="1538" width="63" height="23"/><text class="t" x="1800.5" y="1555">IL-23</text></g>
<g id="g-il12-g"><rect class="b" x="1702" y="1565" width="63" height="23"/><text class="t" x="1733.5" y="1582">IL-12</text></g>
<g id="g-il1b-b"><rect class="b" x="1769" y="1565" width="63" height="23"/><text class="t" x="1800.5" y="1582">IL-1β</text></g>
<g id="g-il27-b"><rect class="b" x="1702" y="1617" width="63" height="24"/><text class="t" x="1733.5" y="1634">IL-27</text></g>
</g>
</svg>
